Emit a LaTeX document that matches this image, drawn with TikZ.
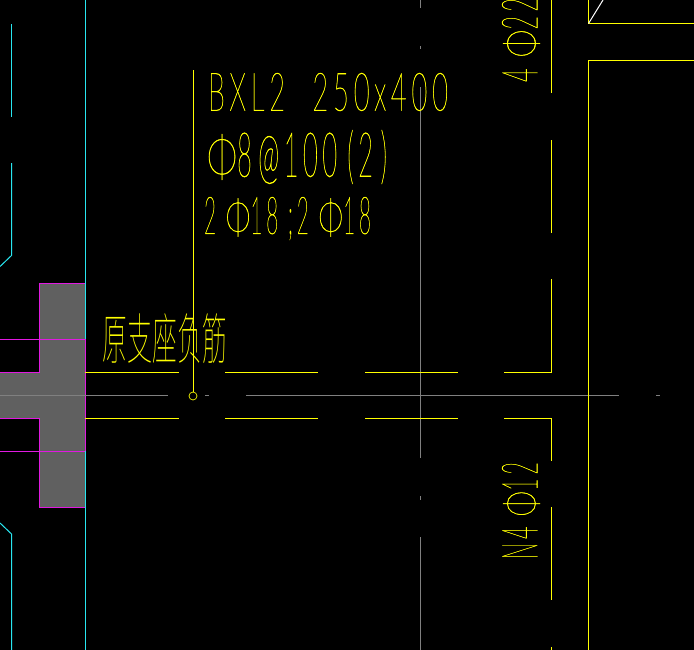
\documentclass[tikz,border=0pt]{standalone}
\usepackage{fontspec}
\usepackage{graphicx}
\newfontfamily\cadfont[UprightFont={* Thin},LetterSpace=18,FakeBold=0.9]{Lato}
\newfontfamily\cadcjk[UprightFont={* Thin}]{Noto Sans CJK SC}
\newlength\pxunit
\setlength\pxunit{0.75pt}
\newcommand{\cadline}[3]{\resizebox*{#1\pxunit}{#2\pxunit}{#3}}
\newcommand{\barsign}{\scalebox{1.5}[0.9]{Φ}}
\definecolor{cadyellow}{RGB}{255,255,0}
\definecolor{cadgrey}{RGB}{128,128,128}
\definecolor{cadcyan}{RGB}{40,230,240}
\definecolor{cadmagenta}{RGB}{225,25,225}
\definecolor{cadblock}{RGB}{96,96,96}
\tikzset{
  wall/.style={cadcyan, line width=0.75pt},
  support/.style={cadmagenta, line width=0.75pt},
  axisline/.style={cadgrey, line width=0.75pt},
  rebar/.style={cadyellow, line width=0.75pt},
  cadtext/.style={text=cadyellow, inner sep=0pt, outer sep=0pt, anchor=north west},
  cadup/.style={text=cadyellow, inner sep=0pt, outer sep=0pt, rotate=90, anchor=south west},
}

\begin{document}
\begin{tikzpicture}[x=0.75pt,y=-0.75pt]
  \useasboundingbox (0,0) rectangle (694,650);
  \fill[black] (0,0) rectangle (694,650);

  % Support block
  \fill[cadblock] (39.5,283.5) -- (85.5,283.5) -- (85.5,507.5) -- (39.5,507.5) -- (39.5,418.5) -- (0,418.5)
    -- (0,372.5) -- (39.5,372.5) -- cycle;
  \draw[support] (0,372.5) -- (39.5,372.5) -- (39.5,283.5) -- (85.5,283.5);
  \draw[support] (0,418.5) -- (39.5,418.5) -- (39.5,507.5) -- (85.5,507.5);
  \draw[support] (0,339.5) -- (85.5,339.5);
  \draw[support] (0,451.5) -- (85.5,451.5);

  % Walls
  \draw[wall] (85.5,0) -- (85.5,339);
  \draw[wall] (85.5,451) -- (85.5,650);
  \draw[support] (85.5,339) -- (85.5,451);
  \draw[wall] (11.5,24) -- (11.5,117);
  \draw[wall] (11.5,163) -- (11.5,255.5) -- (0,266.5);
  \draw[wall] (0,523) -- (11.5,534) -- (11.5,650);

  % Axes
  \foreach \xa/\xb in {0/168, 205/209, 246/619, 656/660}
    \draw[axisline] (\xa,395.5) -- (\xb,395.5);
  \foreach \ya/\yb in {0/8, 46/49, 87/458, 496/500, 537/650}
    \draw[axisline] (420.5,\ya) -- (420.5,\yb);

  % Beam bars
  \foreach \xa/\xb in {85/179, 225/318, 365/458} {
    \draw[rebar] (\xa,372.5) -- (\xb,372.5);
    \draw[rebar] (\xa,418.5) -- (\xb,418.5);
  }
  \draw[rebar] (504,372.5) -- (551.5,372.5) -- (551.5,279);
  \draw[rebar] (504,418.5) -- (551.5,418.5) -- (551.5,461);
  \foreach \ya/\yb in {0/93, 140/233, 507/600, 647/650}
    \draw[rebar] (551.5,\ya) -- (551.5,\yb);

  % Column
  \draw[rebar] (694,60.5) -- (588.5,60.5) -- (588.5,650);
  \draw[rebar] (694,23.5) -- (588.5,23.5) -- (588.5,0);
  \draw[white, line width=0.75pt] (588.5,23.5) -- (603,0);

  % Leader
  \node[draw=cadyellow, line width=0.5pt, circle, minimum size=8\pxunit, inner sep=0pt] (mark) at (193,396) {};
  \coordinate (leadtop) at (193,70);
  \draw[rebar] (leadtop) -- (mark.north);

  % Labels
  \node[cadtext] (beamname) at (208,73) {\cadline{240}{38}{\cadfont BXL2\hspace{1em}250\,x\,400}};
  \node[cadtext] (stirrup) at (207,130) {\cadline{180}{54}{\cadfont \barsign 8\hspace{.25em}@100\hspace{.4em}(2\hspace{.3em})}};
  \node[cadtext] (mainbar) at (204,197) {\cadline{167}{43}{\cadfont 2 \barsign 18 ;2 \barsign 18}};
  \node[cadtext] (note) at (103,314) {\cadline{124}{50}{\cadcjk 原支座负筋}};
  \node[cadup] (topbar) at (540,82) {\cadline{84}{38}{\cadfont 4 \barsign 22}};
  \node[cadup] (sidebar) at (540,559) {\cadline{97}{38}{\cadfont N4 \barsign 12}};
\end{tikzpicture}
\end{document}
